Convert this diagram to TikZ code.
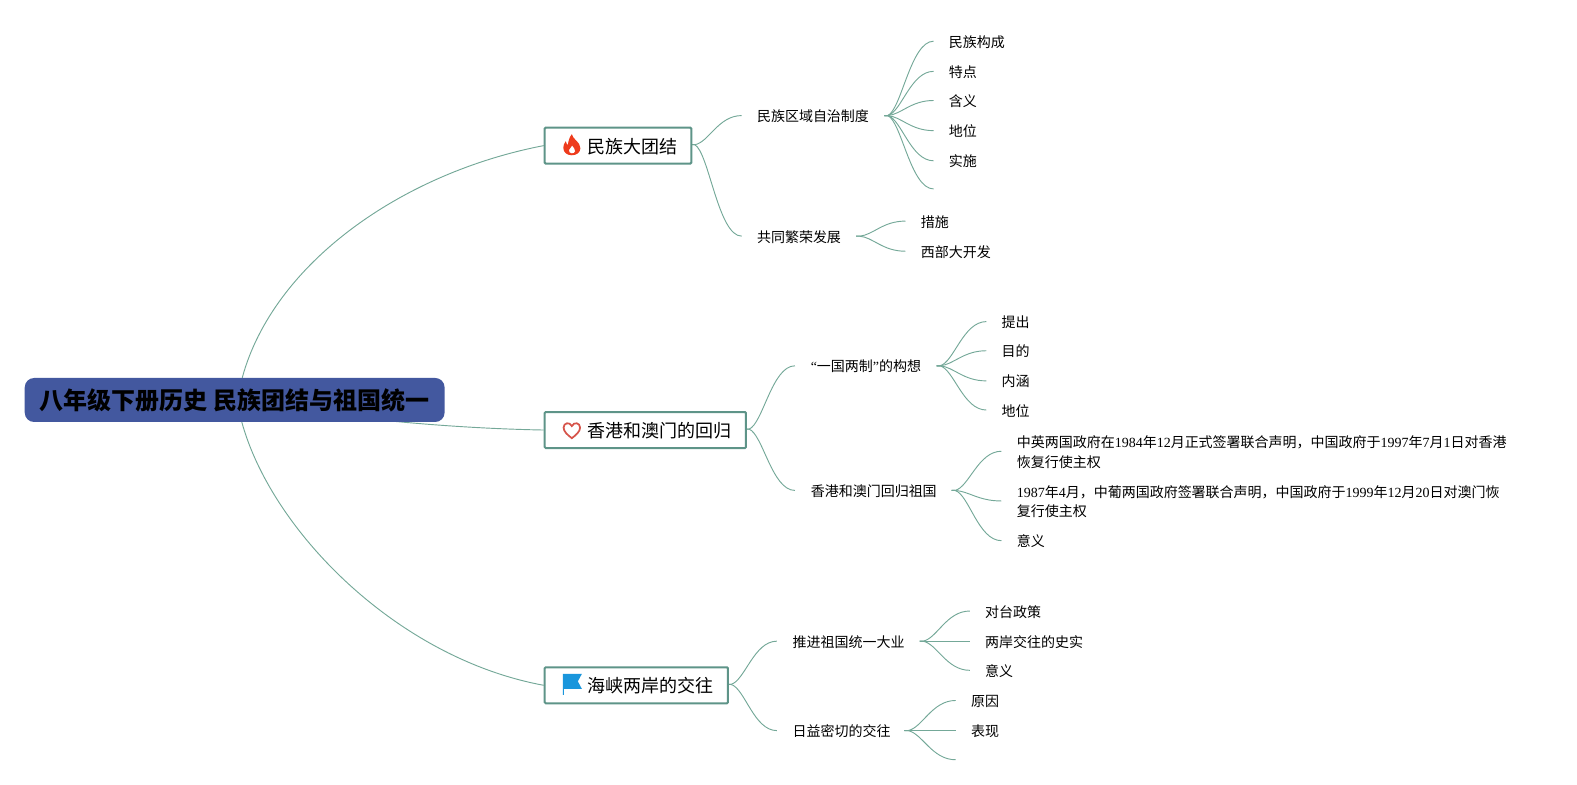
\documentclass[tikz,border=0pt]{standalone}
\usepackage{fontspec}
\usetikzlibrary{calc}
\setmainfont{Liberation Serif}
\newfontfamily\cjk{Noto Sans CJK SC}
\definecolor{linkc}{HTML}{74A898}
\definecolor{boxc}{HTML}{5E9488}
\definecolor{rootc}{HTML}{43589F}
\definecolor{flamec}{HTML}{EE3B1C}
\definecolor{heartc}{HTML}{D6544A}
\definecolor{flagc}{HTML}{1A96DC}
\pgfdeclarelayer{bg}
\pgfsetlayers{bg,main}
\tikzset{
  conn/.style={draw=linkc,line width=0.7pt},
  rootnode/.style={fill=rootc,rounded corners=7pt,minimum width=315pt,minimum height=33pt,inner sep=0pt,font=\cjk\bfseries\fontsize{18pt}{20pt}\selectfont,text=black},
  mainbox/.style={draw=boxc,fill=white,line width=1.5pt,rounded corners=0.8pt,anchor=north west,inner sep=0pt},
  maintext/.style={anchor=west,inner sep=0pt,font=\cjk\fontsize{13.5pt}{16pt}\selectfont},
  subtext/.style={anchor=west,inner sep=0pt,yshift=-0.5pt,font=\fontsize{10.5pt}{15pt}\selectfont},
  leaftext/.style={anchor=west,inner sep=0pt,yshift=-0.5pt,align=left,font=\fontsize{10.5pt}{15pt}\selectfont},
}
\newcommand\lnk[2]{\begin{pgfonlayer}{bg}\draw[conn] let \p1=(#1),\p2=(#2) in (\p1) -- ++(2.5pt,0) .. controls ({\x1+2.5pt+0.3*(\x2-\x1-2.5pt)},{\y1+0.08*(\y2-\y1)}) and ({\x1+2.5pt+0.5*(\x2-\x1-2.5pt)},{\y2}) .. (\p2);\end{pgfonlayer}}
\newcommand\leaf[5]{\node[leaftext] (#1) at (#2,#3) {#4};\coordinate (#1e) at (#2-15,#3);\lnk{#5}{#1e}}
\newcommand\blank[4]{\coordinate (#1e) at (#2,#3);\lnk{#4}{#1e}}
\begin{document}
\begin{tikzpicture}[x=0.754pt,y=-0.754pt]
\useasboundingbox (0,0) rectangle (1569.2,781);
% root
\node[rootnode] (root) at (233.5,398) {\raisebox{-0.8pt}{八年级下册历史 民族团结与祖国统一}};
% main boxes
\node[mainbox,minimum width=110pt,minimum height=27pt] (m1) at (541,126) {};
\node[mainbox,minimum width=151pt,minimum height=27pt] (m2) at (541,409) {};
\node[mainbox,minimum width=137.5pt,minimum height=27pt] (m3) at (541,663) {};
\node[maintext] (m1t) at (584,145.5) {民族大团结};
\node[maintext] (m2t) at (584,428.5) {香港和澳门的回归};
\node[maintext] (m3t) at (584,682) {海峡两岸的交往};
% root connectors
\coordinate (rt) at (241,376);
\coordinate (rb) at (240.5,419.6);
\begin{pgfonlayer}{bg}
\draw[conn] (rt) .. controls (272,262) and (400,172) .. (m1.west);
\draw[conn] (root.center) .. controls (330,415) and (440,426) .. (m2.west);
\draw[conn] (rb) .. controls (270,528) and (395,655) .. (m3.west);
\end{pgfonlayer}
% icons
\fill[flamec] (569,133.5) .. controls (570,139) and (577.5,141) .. (577.5,147.5) .. controls (577.5,152) and (573.5,154.5) .. (569,154.5) .. controls (564,154.5) and (560.5,151.5) .. (560.5,147) .. controls (560.5,144.5) and (561.5,142.5) .. (563,140.5) .. controls (563.5,142.5) and (564,143.5) .. (565,144.5) .. controls (565.5,140.5) and (566.5,136.5) .. (569,133.5) -- cycle;
\fill[white] (569,152.5) .. controls (567,152.5) and (565.8,151) .. (566.3,149.3) .. controls (566.8,147.6) and (568.5,147) .. (569.3,145) .. controls (570.5,147) and (572.6,148.6) .. (572.2,150.5) .. controls (571.9,151.8) and (570.5,152.5) .. (569,152.5) -- cycle;
\draw[draw=heartc,line width=1.3pt] (569,436) .. controls (565,433) and (560.8,429.5) .. (560.8,425.5) .. controls (560.8,420.5) and (567,419.5) .. (569,424) .. controls (571,419.5) and (577.2,420.5) .. (577.2,425.5) .. controls (577.2,429.5) and (573,433) .. (569,436) -- cycle;
\fill[flagc] (560,670.5) -- (579,670.5) -- (575,678) -- (579,685.5) -- (561,685.5) -- (561,691.5) -- (560,691.5) -- cycle;
% sub nodes
\node[subtext] (s1) at (753,115) {{\cjk 民族区域自治制度}};
\node[subtext] (s2) at (753,235) {{\cjk 共同繁荣发展}};
\node[subtext] (s3) at (806.5,364) {“{\cjk 一国两制}”{\cjk 的构想}};
\node[subtext] (s4) at (806.5,488) {{\cjk 香港和澳门回归祖国}};
\node[subtext] (s5) at (788.5,638) {{\cjk 推进祖国统一大业}};
\node[subtext] (s6) at (788.5,727) {{\cjk 日益密切的交往}};
\coordinate (s1w) at (738,115); \coordinate (s2w) at (738,235);
\coordinate (s3w) at (791,364); \coordinate (s4w) at (791,488);
\coordinate (s5w) at (773,638); \coordinate (s6w) at (773,727);
\coordinate (h1) at (880,115); \coordinate (h2) at (852,235);
\coordinate (h3) at (932,364); \coordinate (h4) at (947,488);
\coordinate (h5) at (915,638); \coordinate (h6) at (900,727);
\coordinate (b1) at (688,144); \coordinate (b2) at (742,427); \coordinate (b3) at (724,681);
\lnk{b1}{s1w}\lnk{b1}{s2w}\lnk{b2}{s3w}\lnk{b2}{s4w}\lnk{b3}{s5w}\lnk{b3}{s6w}
% leaves
\leaf{a1}{944}{41}{\cjk 民族构成}{h1}
\leaf{a2}{944}{71}{\cjk 特点}{h1}
\leaf{a3}{944}{100}{\cjk 含义}{h1}
\leaf{a4}{944}{130}{\cjk 地位}{h1}
\leaf{a5}{944}{160}{\cjk 实施}{h1}
\blank{a6}{929}{188}{h1}
\leaf{c1}{916}{220}{\cjk 措施}{h2}
\leaf{c2}{916}{250}{\cjk 西部大开发}{h2}
\leaf{d1}{996.5}{320}{\cjk 提出}{h3}
\leaf{d2}{996.5}{349}{\cjk 目的}{h3}
\leaf{d3}{996.5}{379}{\cjk 内涵}{h3}
\leaf{d4}{996.5}{408}{\cjk 地位}{h3}
\leaf{f1}{1011.5}{449}{{\cjk 中英两国政府在}1984{\cjk 年}12{\cjk 月正式签署联合声明，中国政府于}1997{\cjk 年}7{\cjk 月}1{\cjk 日对香港}\\{\cjk 恢复行使主权}}{h4}
\leaf{f2}{1011.5}{498.5}{1987{\cjk 年}4{\cjk 月，中葡两国政府签署联合声明，中国政府于}1999{\cjk 年}12{\cjk 月}20{\cjk 日对澳门恢}\\{\cjk 复行使主权}}{h4}
\leaf{f3}{1011.5}{538}{\cjk 意义}{h4}
\leaf{g1}{980}{608}{\cjk 对台政策}{h5}
\leaf{g2}{980}{638}{\cjk 两岸交往的史实}{h5}
\leaf{g3}{980}{667}{\cjk 意义}{h5}
\leaf{k1}{966}{697}{\cjk 原因}{h6}
\leaf{k2}{966}{727}{\cjk 表现}{h6}
\blank{k3}{951}{756}{h6}
\end{tikzpicture}
\end{document}
